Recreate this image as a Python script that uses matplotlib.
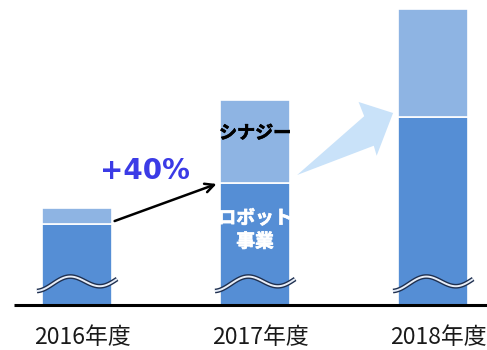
import numpy as np
import matplotlib.pyplot as plt
import matplotlib.patheffects as pe
from matplotlib.patches import Polygon
from matplotlib.transforms import IdentityTransform

plt.rcParams['font.family'] = ['Noto Sans CJK JP', 'DejaVu Sans']

years = ['2016年度', '2017年度', '2018年度']
robot = [81, 122, 188]      # ロボット事業 (lower part)
synergy = [16, 83, 108]     # シナジー (upper part)
growth_label = '+40%'

pos = np.arange(len(years))
w = 0.393
c_low = '#558ed5'
c_up = '#8eb4e3'

fig = plt.figure(figsize=(4.87, 3.5), dpi=100)
ax = fig.add_axes([0, 0, 1, 1])
ax.set_xlim(-0.4326, 2.303)
ax.set_ylim(-45, 305)
ax.axis('off')

ax.bar(pos, robot, w, color=c_low, edgecolor='white', linewidth=1.2, zorder=2)
ax.bar(pos, synergy, w, bottom=robot, color=c_up, edgecolor='white', linewidth=1.2, zorder=2)

# baseline
ax.plot([-0.354, 2.4], [0, 0], color='black', lw=2.2, zorder=5, solid_capstyle='butt')

# wavy break marks
t = np.linspace(0, 1, 100)
for p in pos:
    xs = p - 0.225 + 0.45 * t
    ys = 23 - 6 * np.cos(2.5 * np.pi * t) + 6 * t - 3
    ax.plot(xs, ys, color='#1f3050', lw=3.4, zorder=3, solid_capstyle='butt')
    ax.plot(xs, ys, color='#e8eef8', lw=1.4, zorder=4, solid_capstyle='butt')

# year labels
for p, lab in zip(pos, years):
    ax.text(p + 0.03, -33, lab, ha='center', va='center', fontsize=16.5, color='#1a1a1a')

# black arrow 2016 -> 2017
ax.annotate('', xy=(pos[1] - w / 2 - 0.005, robot[1]),
            xytext=(pos[0] + w / 2, robot[0] + 2),
            arrowprops=dict(arrowstyle='->', color='black', lw=1.8, mutation_scale=16),
            zorder=6)
ax.text(0.38, 134, growth_label, ha='center', va='center', fontsize=20,
        fontweight='bold', color='#3b3be6', family=['DejaVu Sans'])

# light big arrow 2017 -> 2018 (tapered, drawn in pixel space)
tail = ax.transData.transform((pos[1] + w / 2 + 0.04, robot[1] + 8))
tip = ax.transData.transform((pos[2] - w / 2 - 0.028, robot[2] + 4))
L = np.hypot(*(tip - tail))
u = (tip - tail) / L
n = np.array([u[1], -u[0]])
shape = [(-L, 0), (-26, -13), (-23, -28), (0, 0), (-37, 27), (-34, 17)]
pts = [tip + u * a + n * b for a, b in shape]
ax.add_patch(Polygon(pts, closed=True, facecolor='#c9e2f9', edgecolor='none',
                     transform=IdentityTransform(), zorder=1))

# segment labels
ax.text(pos[1], robot[1] + 50, 'シナジー', ha='center', va='center', fontsize=13,
        fontweight='bold', color='black', zorder=6,
        path_effects=[pe.withStroke(linewidth=0.5, foreground='black')])
ax.text(pos[1], robot[1] - 47, 'ロボット\n事業', ha='center', va='center', fontsize=13.5,
        fontweight='bold', color='white', linespacing=1.3, zorder=6,
        path_effects=[pe.withStroke(linewidth=0.5, foreground='white')])

fig.savefig('out.png', dpi=100)
